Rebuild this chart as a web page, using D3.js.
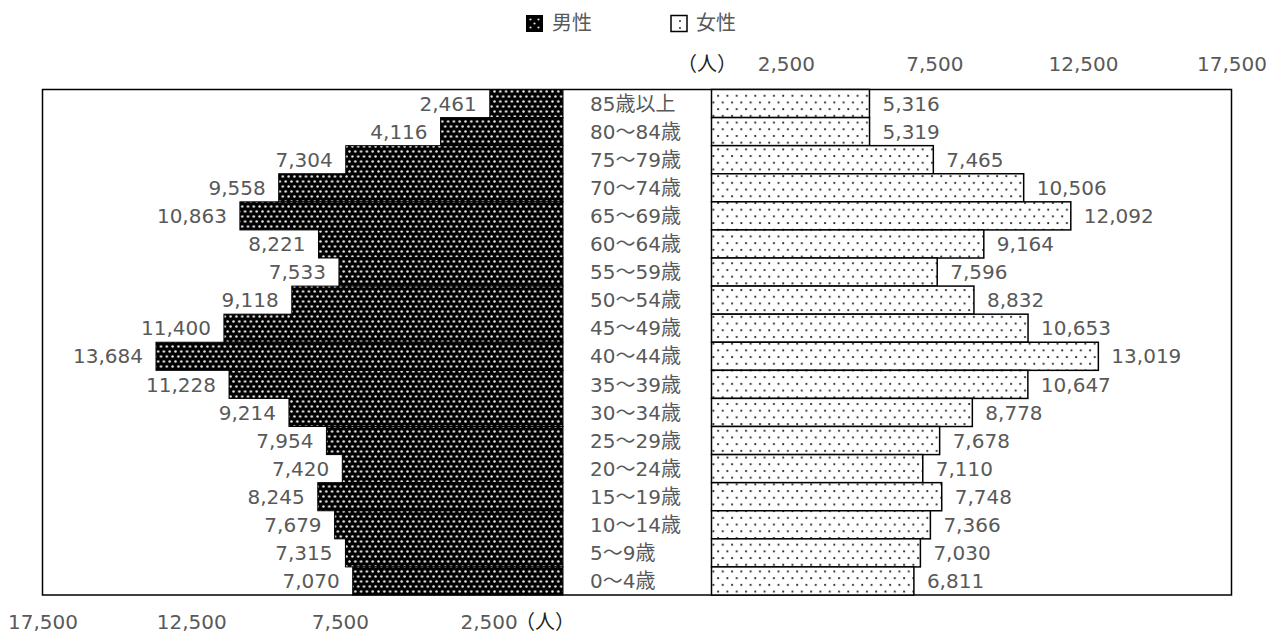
<!DOCTYPE html>
<html>
<head>
<meta charset="utf-8">
<script src="https://cdn.jsdelivr.net/npm/d3@7/dist/d3.min.js"></script>
<style>
  html, body { margin: 0; padding: 0; background: #fff; }
  svg text { font-family: "DejaVu Sans", "Noto Sans CJK JP", sans-serif; font-size: 20px; }
</style>
</head>
<body>
<svg id="chart" width="1282" height="637"></svg>
<script>
// Age groups, oldest at the top
const ageGroups = ["85歳以上", "80～84歳", "75～79歳", "70～74歳", "65～69歳", "60～64歳",
  "55～59歳", "50～54歳", "45～49歳", "40～44歳", "35～39歳", "30～34歳",
  "25～29歳", "20～24歳", "15～19歳", "10～14歳", "5～9歳", "0～4歳"];
const maleCounts = [2461, 4116, 7304, 9558, 10863, 8221, 7533, 9118, 11400, 13684,
  11228, 9214, 7954, 7420, 8245, 7679, 7315, 7070];
const femaleCounts = [5316, 5319, 7465, 10506, 12092, 9164, 7596, 8832, 10653, 13019,
  10647, 8778, 7678, 7110, 7748, 7366, 7030, 6811];
const axisTicks = [2500, 7500, 12500, 17500];
const seriesNames = ["男性", "女性"];
const unitLabel = "（人）";

const svg = d3.select("#chart");
const fmt = d3.format(",");
const textGray = "#595959";

// Fill patterns: dark stipple for men, light stipple for women
const defs = svg.append("defs");
const pm = defs.append("pattern").attr("id", "malePat")
  .attr("patternUnits", "userSpaceOnUse").attr("width", 5.8).attr("height", 10);
pm.append("rect").attr("width", 5.8).attr("height", 10).attr("fill", "#000");
pm.append("circle").attr("cx", 1.5).attr("cy", 1.5).attr("r", 1.25).attr("fill", "#e8e8e8");
pm.append("circle").attr("cx", 4.4).attr("cy", 6.5).attr("r", 1.25).attr("fill", "#e8e8e8");

const pf = defs.append("pattern").attr("id", "femalePat")
  .attr("patternUnits", "userSpaceOnUse").attr("width", 9.3).attr("height", 13.4);
pf.append("rect").attr("width", 9.3).attr("height", 13.4).attr("fill", "#fff");
pf.append("circle").attr("cx", 2).attr("cy", 2).attr("r", 1.1).attr("fill", "#222");
pf.append("circle").attr("cx", 6.65).attr("cy", 8.7).attr("r", 1.1).attr("fill", "#222");

// Scales: two mirrored horizontal scales share one band scale
const xMale = d3.scaleLinear().domain([0, 17500]).range([563, 42.5]);
const xFemale = d3.scaleLinear().domain([0, 17500]).range([711.5, 1231.5]);
const y = d3.scaleBand().domain(ageGroups).range([89.5, 595]).padding(0);

// Plot frame
svg.append("rect")
  .attr("x", 42.5).attr("y", 89.5)
  .attr("width", 1231.5 - 42.5).attr("height", 595 - 89.5)
  .attr("fill", "none").attr("stroke", "#000").attr("stroke-width", 1.5);

// Male bars
svg.append("g").selectAll("rect")
  .data(maleCounts)
  .join("rect")
  .attr("x", d => xMale(d))
  .attr("y", (d, i) => y(ageGroups[i]))
  .attr("width", d => xMale(0) - xMale(d))
  .attr("height", y.bandwidth())
  .attr("fill", "url(#malePat)")
  .attr("stroke", "#000").attr("stroke-width", 1);

// Female bars
svg.append("g").selectAll("rect")
  .data(femaleCounts)
  .join("rect")
  .attr("x", xFemale(0))
  .attr("y", (d, i) => y(ageGroups[i]))
  .attr("width", d => xFemale(d) - xFemale(0))
  .attr("height", y.bandwidth())
  .attr("fill", "url(#femalePat)")
  .attr("stroke", "#000").attr("stroke-width", 1.5);

// Value labels
svg.append("g").selectAll("text")
  .data(maleCounts)
  .join("text")
  .attr("x", d => xMale(d) - 13)
  .attr("y", (d, i) => y(ageGroups[i]) + y.bandwidth() / 2)
  .attr("dy", "0.36em")
  .attr("text-anchor", "end")
  .attr("fill", textGray)
  .text(d => fmt(d));

svg.append("g").selectAll("text")
  .data(femaleCounts)
  .join("text")
  .attr("x", d => xFemale(d) + 13)
  .attr("y", (d, i) => y(ageGroups[i]) + y.bandwidth() / 2)
  .attr("dy", "0.36em")
  .attr("text-anchor", "start")
  .attr("fill", textGray)
  .text(d => fmt(d));

// Age group labels in the central column
svg.append("g").selectAll("text")
  .data(ageGroups)
  .join("text")
  .attr("x", 590)
  .attr("y", d => y(d) + y.bandwidth() / 2)
  .attr("dy", "0.36em")
  .attr("fill", textGray)
  .text(d => d);

// Axes (labels only)
const topAxis = svg.append("g").attr("transform", "translate(0,74)")
  .call(d3.axisTop(xFemale).tickValues(axisTicks).tickFormat(fmt).tickSize(0).tickPadding(3));
const bottomAxis = svg.append("g").attr("transform", "translate(0,612)")
  .call(d3.axisBottom(xMale).tickValues(axisTicks).tickFormat(fmt).tickSize(0).tickPadding(3));
[topAxis, bottomAxis].forEach(g => {
  g.select(".domain").remove();
  g.selectAll("text").attr("font-size", 20).attr("fill", textGray)
    .attr("font-family", "\"DejaVu Sans\", \"Noto Sans CJK JP\", sans-serif");
});

svg.append("text").attr("x", 677).attr("y", 71).attr("fill", "#222").text(unitLabel);
svg.append("text").attr("x", 515).attr("y", 629).attr("fill", "#222").text(unitLabel);

// Legend
const legend = svg.append("g");
legend.append("rect").attr("x", 526).attr("y", 15).attr("width", 17).attr("height", 17).attr("fill", "#000");
[[530.5, 19.5], [538.5, 19.5], [534.5, 23.5], [530.5, 27.5], [538.5, 27.5]].forEach(p =>
  legend.append("circle").attr("cx", p[0]).attr("cy", p[1]).attr("r", 1.1).attr("fill", "#ddd"));
legend.append("text").attr("x", 552).attr("y", 30).attr("fill", textGray).text(seriesNames[0]);

legend.append("rect").attr("x", 671).attr("y", 15.5).attr("width", 16).attr("height", 16)
  .attr("fill", "#fff").attr("stroke", "#000").attr("stroke-width", 1.5);
[[680, 21], [680, 28]].forEach(p =>
  legend.append("circle").attr("cx", p[0]).attr("cy", p[1]).attr("r", 1).attr("fill", "#333"));
legend.append("text").attr("x", 696).attr("y", 30).attr("fill", textGray).text(seriesNames[1]);
</script>
</body>
</html>
